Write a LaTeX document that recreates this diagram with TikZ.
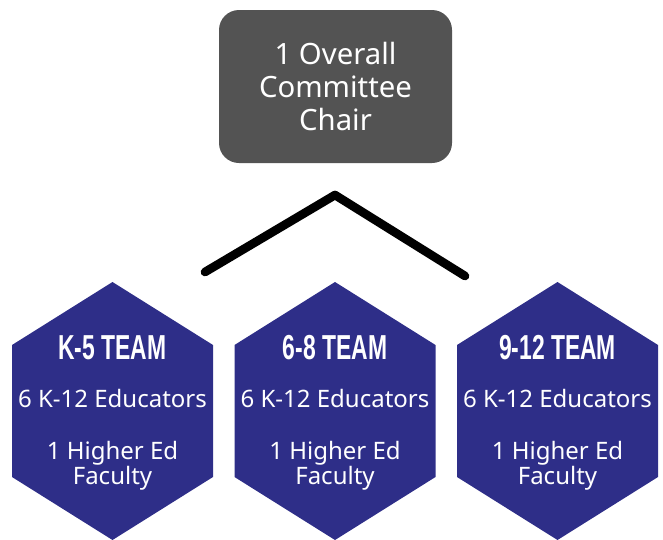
\documentclass[tikz,border=0pt]{standalone}
\usepackage{fontspec}
\setmainfont{Noto Sans}
\newfontfamily\teamfont[FakeStretch=0.66]{Liberation Sans}
\definecolor{chairgray}{RGB}{83,83,83}
\definecolor{teamblue}{RGB}{46,46,136}
\tikzset{
  chairbox/.style={fill=chairgray, rounded corners=15pt, minimum width=174.75pt,
    minimum height=114.75pt, align=center, text=white, font=\fontsize{22}{25}\selectfont},
  teamhex/.style={fill=teamblue},
  teamtitle/.style={text=white, font=\teamfont\bfseries\fontsize{26}{28}\selectfont},
  teamtext/.style={text=white, align=center, font=\fontsize{18}{19}\selectfont},
  caret/.style={line width=6.5pt, line cap=round, line join=round}
}

\begin{document}
\begin{tikzpicture}[x=0.75pt,y=-0.75pt]
  \useasboundingbox (0,0) rectangle (663,539);

  \node[chairbox] (chair) at (335.5,86.5) {1 Overall\\Committee\\Chair};

  % the branch under the chair
  \coordinate (capl) at (205,272);
  \coordinate (capt) at (335,195);
  \coordinate (capr) at (465,276);
  \draw[caret] (capl) -- (capt) -- (capr);

  % three teams
  \foreach \cx/\tm/\title in {112.5/kfive/K-5 TEAM, 335/sixeight/6-8 TEAM, 557.5/nintwelve/9-12 TEAM}{
    \fill[teamhex] (\cx,282) -- ++(100.5,63) -- ++(0,132) -- ++(-100.5,63)
      -- ++(-100.5,-63) -- ++(0,-132) -- cycle;
    \node[teamtitle] (\tm-title) at (\cx,348) {\title};
    \node[teamtext] (\tm-edu) at (\cx,398) {6 K-12 Educators};
    \node[teamtext] (\tm-fac) at (\cx,466) {1 Higher Ed\\Faculty};
  }
\end{tikzpicture}
\end{document}
